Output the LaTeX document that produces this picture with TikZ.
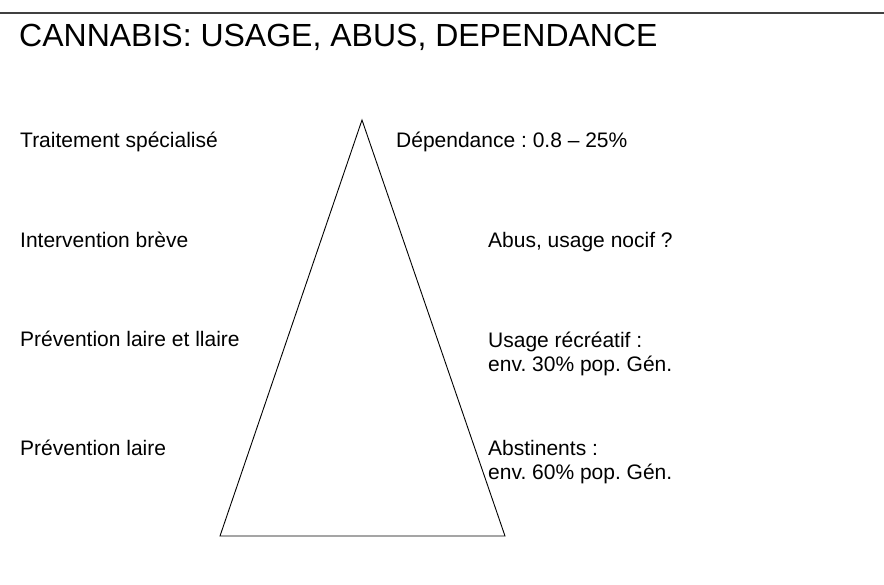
\documentclass[tikz,border=0pt]{standalone}
\usepackage{fontspec}
\setmainfont{Liberation Sans}
\frenchspacing
\begin{document}
\begin{tikzpicture}[x=1pt,y=-1pt,
  label/.style={anchor=base west,inner sep=0pt,font=\fontsize{21}{24}\selectfont},
  titletext/.style={anchor=base west,inner sep=0pt,font=\fontsize{32}{36}\selectfont},
  pyramid/.style={draw=black,line width=0.9pt,line join=miter}]
  \useasboundingbox (0,0) rectangle (884,585);
  % header rule
  \coordinate (ruleL) at (0,13);
  \coordinate (ruleR) at (884,13);
  \draw[line width=1.6pt,black!75] (ruleL) -- (ruleR);
  % title
  \node[titletext] (title) at (19,47) {CANNABIS: USAGE, ABUS, DEPENDANCE};
  % pyramid
  \coordinate (apex) at (362,120);
  \coordinate (baseL) at (220,536);
  \coordinate (baseR) at (505,536);
  \draw[pyramid] (apex) -- (baseL) -- (baseR) -- cycle;
  % interventions (left)
  \node[label] (treat) at (20,148) {Traitement spécialisé};
  \node[label] (brief) at (20,248) {Intervention brève};
  \node[label] (prev12) at (20,347) {Prévention laire et llaire};
  \node[label] (prev1) at (20,455) {Prévention laire};
  % levels of use (right)
  \node[label] (dep) at (396,148) {Dépendance : 0.8 – 25\%};
  \node[label] (abus) at (488,248) {Abus, usage nocif ?};
  \node[label] (recr) at (488,348) {Usage récréatif :};
  \node[label] (recrpct) at (488,372) {env. 30\% pop. Gén.};
  \node[label] (abst) at (488,455) {Abstinents :};
  \node[label] (abstpct) at (488,479) {env. 60\% pop. Gén.};
\end{tikzpicture}
\end{document}
